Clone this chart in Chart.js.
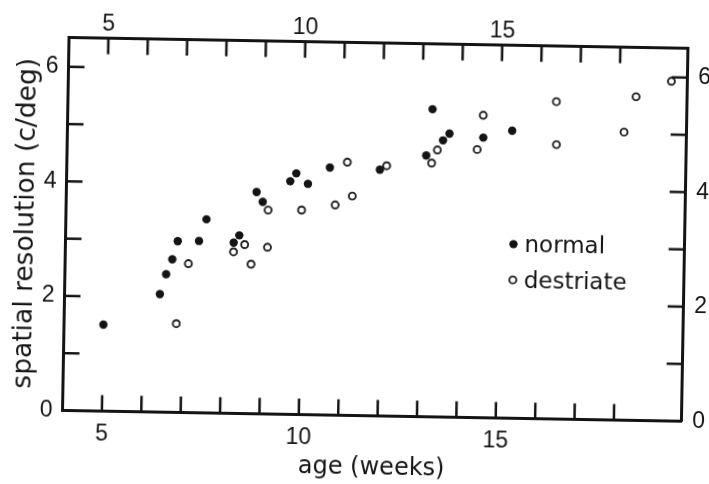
<!DOCTYPE html>
<html lang="en">
<head>
<meta charset="UTF-8">
<title>Spatial resolution vs age</title>
<script src="https://cdn.jsdelivr.net/npm/chart.js"></script>
<style>
  html, body { margin: 0; padding: 0; background: #fff; overflow: hidden; }
  /* the scanned figure sits about a degree off square */
  .wrap { width: 709px; height: 484px; transform: rotate(1deg); }
</style>
</head>
<body>
<div class="wrap"><canvas id="acuity"></canvas></div>
<script>
// age in weeks, spatial resolution in c/deg
const normalAge = [5.00, 6.42, 6.57, 6.72, 6.85, 7.39, 7.57, 8.27, 8.41, 8.83, 8.99, 9.68, 9.83, 10.13, 10.68, 11.95, 13.12, 13.26, 13.54, 13.70, 14.56, 15.29];
const normalRes = [1.51, 2.06, 2.41, 2.67, 2.99, 3.00, 3.38, 2.98, 3.11, 3.87, 3.70, 4.07, 4.21, 4.03, 4.32, 4.30, 4.56, 5.37, 4.83, 4.95, 4.89, 5.02];

const destriateAge = [6.85, 7.13, 8.27, 8.55, 8.72, 9.13, 9.13, 9.98, 10.83, 11.12, 11.26, 12.12, 13.26, 13.40, 14.41, 14.55, 16.40, 16.42, 18.13, 18.42, 19.31];
const destriateRes = [1.55, 2.60, 2.82, 2.95, 2.61, 2.91, 3.56, 3.57, 3.67, 4.42, 3.83, 4.37, 4.43, 4.66, 4.68, 5.28, 5.54, 4.79, 5.03, 5.65, 5.93];

const xTickLabels = [5, 10, 15];
const yTickLabels = [0, 2, 4, 6];

const ink = '#141414';
const tickFont = { family: 'Liberation Sans', size: 23 };

// ticks are drawn pointing into the plot, one per unit
const inwardTicks = {
  id: 'inwardTicks',
  afterDraw(chart) {
    const { ctx, chartArea: a } = chart;
    const len = 16;
    ctx.save();
    ctx.strokeStyle = ink;
    ctx.lineWidth = 2.5;
    Object.values(chart.scales).forEach(s => {
      s.ticks.forEach(t => {
        if (!Number.isInteger(t.value) || t.value === s.min || t.value === s.max) return;
        const p = s.getPixelForValue(t.value);
        ctx.beginPath();
        if (s.position === 'bottom') { ctx.moveTo(p, a.bottom); ctx.lineTo(p, a.bottom - len); }
        if (s.position === 'top') { ctx.moveTo(p, a.top); ctx.lineTo(p, a.top + len); }
        if (s.position === 'left') { ctx.moveTo(a.left, p); ctx.lineTo(a.left + len, p); }
        if (s.position === 'right') { ctx.moveTo(a.right, p); ctx.lineTo(a.right - len, p); }
        ctx.stroke();
      });
    });
    ctx.restore();
  }
};

// key sits inside the plot, lower right of centre
const insideLegend = {
  id: 'insideLegend',
  afterDraw(chart) {
    const { ctx, chartArea: a } = chart;
    const x0 = a.left + 0.7235 * (a.right - a.left);
    ctx.save();
    ctx.font = '23px "DejaVu Sans"';
    ctx.textBaseline = 'middle';
    chart.data.datasets.forEach((ds, i) => {
      const y0 = a.top + (0.533 + 0.096 * i) * (a.bottom - a.top);
      ctx.beginPath();
      ctx.arc(x0, y0, ds.pointRadius, 0, Math.PI * 2);
      ctx.fillStyle = ds.pointBackgroundColor;
      ctx.fill();
      if (ds.pointBorderWidth) {
        ctx.lineWidth = ds.pointBorderWidth;
        ctx.strokeStyle = ds.pointBorderColor;
        ctx.stroke();
      }
      ctx.fillStyle = ink;
      ctx.fillText(ds.label, x0 + 11, y0 + 1.5);
    });
    ctx.restore();
  }
};

function xAxis(position, pad, height, title) {
  return {
    type: 'linear', position: position, min: 4, max: 19.72,
    grid: { display: false, drawTicks: false },
    border: { display: true, color: ink, width: 3 },
    ticks: {
      stepSize: 1, autoSkip: false, maxRotation: 0, padding: pad,
      color: ink, font: tickFont,
      callback: v => xTickLabels.includes(v) ? String(v) : ''
    },
    title: title,
    afterFit: s => { s.height = height; }
  };
}

function yAxis(position, pad, width, title) {
  return {
    type: 'linear', position: position, min: 0, max: 6.51,
    grid: { display: false, drawTicks: false },
    border: { display: true, color: ink, width: 3 },
    ticks: {
      stepSize: 1, autoSkip: false, padding: pad,
      color: ink, font: tickFont,
      callback: v => yTickLabels.includes(v) ? String(v) : ''
    },
    title: title,
    afterFit: s => { s.width = width; }
  };
}

new Chart(document.getElementById('acuity'), {
  type: 'scatter',
  data: {
    datasets: [{
      label: 'normal',
      data: normalAge.map((a, i) => ({ x: a, y: normalRes[i] })),
      pointRadius: 4.2,
      pointBackgroundColor: ink,
      pointBorderColor: ink,
      pointBorderWidth: 0,
      xAxisID: 'x', yAxisID: 'y'
    }, {
      label: 'destriate',
      data: destriateAge.map((a, i) => ({ x: a, y: destriateRes[i] })),
      pointRadius: 3.5,
      pointBackgroundColor: '#fff',
      pointBorderColor: '#222',
      pointBorderWidth: 1.9,
      xAxisID: 'x', yAxisID: 'y'
    }]
  },
  options: {
    responsive: true,
    maintainAspectRatio: false,
    animation: false,
    layout: { padding: 0 },
    plugins: { legend: { display: false }, tooltip: { enabled: false } },
    scales: {
      x: xAxis('bottom', 9, 68.5, {
        display: true, text: 'age (weeks)', color: ink,
        font: { family: 'DejaVu Sans', size: 24 }, padding: { top: 0, bottom: 2 }
      }),
      x2: xAxis('top', 0, 42.6, { display: false }),
      y: yAxis('left', 10, 65.5, {
        display: true, text: 'spatial resolution (c/deg)', color: ink,
        font: { family: 'DejaVu Sans', size: 26.5 }, padding: { top: 10, bottom: 0 }
      }),
      y2: yAxis('right', 10.6, 24.3, { display: false })
    }
  },
  plugins: [inwardTicks, insideLegend]
});
</script>
</body>
</html>
